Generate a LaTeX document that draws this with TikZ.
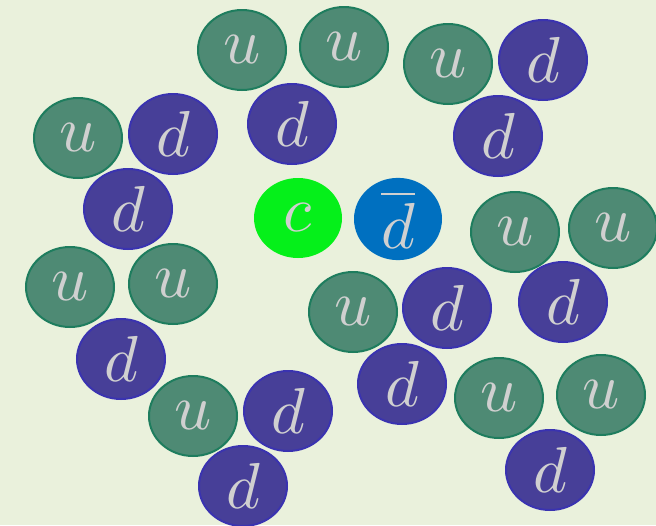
\documentclass[tikz,border=0pt]{standalone}
\usepackage{graphicx}
\usepackage{tikz}
\usetikzlibrary{shapes.geometric}
\definecolor{bgcream}{HTML}{EAF1DC}
\definecolor{upfill}{HTML}{4E8A74}
\definecolor{updraw}{HTML}{1E7D5E}
\definecolor{downfill}{HTML}{473F98}
\definecolor{downdraw}{HTML}{3A33B0}
\definecolor{charmfill}{HTML}{05F01A}
\definecolor{antifill}{HTML}{0070C0}
\definecolor{quarktext}{HTML}{D0D0D0}
\newcommand{\qsym}[1]{\scalebox{6.5}{$#1$}}

\begin{document}
\begin{tikzpicture}[
  x=1pt, y=-1pt,
  quark/.style={ellipse, minimum width=88pt, minimum height=80pt, inner sep=0pt, line width=2pt,
    text=quarktext},
  upq/.style={quark, draw=updraw, fill=upfill},
  downq/.style={quark, draw=downdraw, fill=downfill}
]
\fill[bgcream] (0,0) rectangle (656,525);
\useasboundingbox (0,0) rectangle (656,525);
% top cluster
\node[upq] (u1) at (242,50) {\qsym{u}};
\node[upq] (u2) at (344,47) {\qsym{u}};
\node[downq] (d1) at (292,124) {\qsym{d}};
% top right cluster
\node[upq] (u3) at (448,64) {\qsym{u}};
\node[downq] (d2) at (543,60) {\qsym{d}};
\node[downq] (d3) at (498,136) {\qsym{d}};
% left cluster
\node[upq] (u4) at (78,138) {\qsym{u}};
\node[downq] (d4) at (173,134) {\qsym{d}};
\node[downq] (d5) at (128,209) {\qsym{d}};
% charm meson
\node[quark, fill=charmfill] (c) at (298,218) {\qsym{c}};
\node[quark, fill=antifill] (dbar) at (398,219) {\qsym{\overline{d}}};
% right cluster
\node[upq] (u5) at (515,232) {\qsym{u}};
\node[upq] (u6) at (613,228) {\qsym{u}};
\node[downq] (d6) at (563,302) {\qsym{d}};
% lower left cluster
\node[upq] (u7) at (70,287) {\qsym{u}};
\node[upq] (u8) at (173,284) {\qsym{u}};
\node[downq] (d7) at (121,359) {\qsym{d}};
% middle cluster
\node[upq] (u9) at (353,312) {\qsym{u}};
\node[downq] (d8) at (447,308) {\qsym{d}};
\node[downq] (d9) at (402,384) {\qsym{d}};
% bottom cluster
\node[upq] (u10) at (193,416) {\qsym{u}};
\node[downq] (d10) at (288,411) {\qsym{d}};
\node[downq] (d11) at (243,486) {\qsym{d}};
% bottom right cluster
\node[upq] (u11) at (499,398) {\qsym{u}};
\node[upq] (u12) at (601,395) {\qsym{u}};
\node[downq] (d12) at (550,470) {\qsym{d}};
\end{tikzpicture}
\end{document}
